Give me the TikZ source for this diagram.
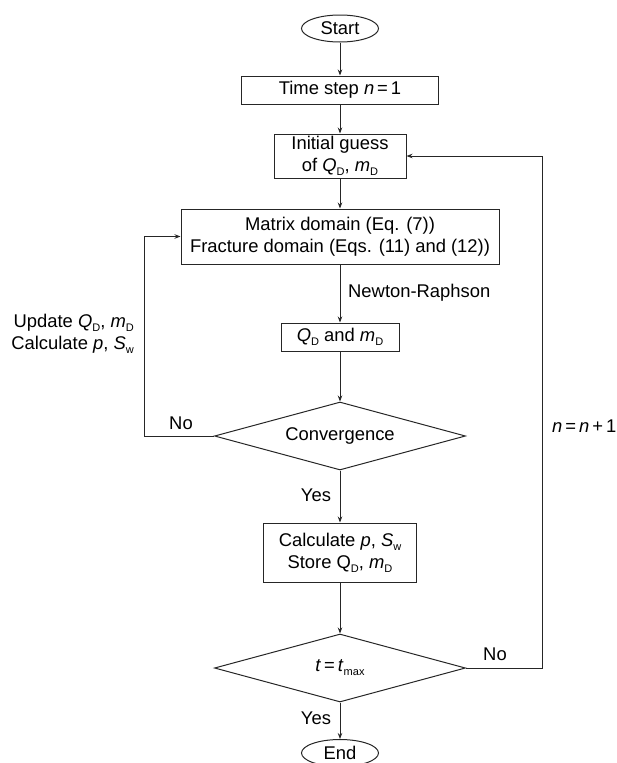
\documentclass[tikz,border=0pt]{standalone}
\usepackage{fontspec}
\setmainfont{Liberation Sans}
\usetikzlibrary{shapes.geometric,arrows.meta}
\newcommand{\dsub}[1]{\raisebox{-0.4ex}{\fontsize{11}{11}\selectfont #1}}
\begin{document}
\begin{tikzpicture}[x=1pt,y=-1pt,
  font=\fontsize{18.4}{22}\selectfont,
  line/.style={draw=black!85, line width=0.9pt},
  arr/.style={line, -{Stealth[length=6pt,width=4.5pt]}},
  box/.style={draw=black!85, line width=1pt, rectangle, inner sep=0pt, align=center},
  term/.style={draw=black!85, line width=1pt, ellipse, inner sep=0pt, minimum width=77pt, minimum height=27pt},
  decision/.style={draw=black!85, line width=1pt, diamond, shape aspect=3.7, inner sep=0pt, minimum width=251pt, minimum height=68pt},
  lbl/.style={inner sep=0pt, align=center}]
\useasboundingbox (0,0) rectangle (617,763);

\node[term] (start) at (340,28.5) {Start};
\node[box, minimum width=197pt, minimum height=28pt] (ts) at (340,90) {Time step \textit{n}\kern3pt=\kern3pt1};
\node[box, minimum width=132pt, minimum height=44pt] (ig) at (340,156) {Initial guess\\of \textit{Q}\dsub{D}, \textit{m}\dsub{D}};
\node[box, minimum width=318pt, minimum height=55pt] (mat) at (340,236.5) {Matrix domain (Eq. (7))\\Fracture domain (Eqs. (11) and (12))};
\node[box, minimum width=118pt, minimum height=28pt] (qd) at (340,337) {\textit{Q}\dsub{D} and \textit{m}\dsub{D}};
\node[decision] (conv) at (340,436) {Convergence};
\node[box, minimum width=153pt, minimum height=59pt] (calc) at (340,552.5) {Calculate \textit{p}, \textit{S}\dsub{w}\\Store Q\dsub{D}, \textit{m}\dsub{D}};
\node[decision] (tmax) at (340,668) {\textit{t}\kern3pt=\kern3pt\textit{t}\dsub{max}};
\node[term] (end) at (340,753) {End};

\coordinate (lc) at (144,436);
\coordinate (rc) at (542,668);

\draw[arr] (start) -- (ts);
\draw[arr] (ts) -- (ig);
\draw[arr] (ig) -- (mat);
\draw[arr] (mat) -- (qd);
\draw[arr] (qd) -- (conv);
\draw[arr] (conv) -- (calc);
\draw[arr] (calc) -- (tmax);
\draw[arr] (tmax) -- (end);
\draw[arr] (conv.west) -- (lc) |- (mat.west);
\draw[arr] (tmax.east) -- (rc) |- (ig.east);

\node[lbl, anchor=west] (nr) at (348,293) {Newton-Raphson};
\node[lbl, anchor=east, align=right] (upd) at (134,333.5) {Update \textit{Q}\dsub{D}, \textit{m}\dsub{D}\\Calculate \textit{p}, \textit{S}\dsub{w}};
\node[lbl] (no1) at (181,423) {No};
\node[lbl] (yes1) at (316,495) {Yes};
\node[lbl] (no2) at (495,654) {No};
\node[lbl] (yes2) at (316,718) {Yes};
\node[lbl, anchor=west] (inc) at (552,426) {\textit{n}\kern3pt=\kern3pt\textit{n}\kern3pt+\kern3pt1};
\end{tikzpicture}
\end{document}
